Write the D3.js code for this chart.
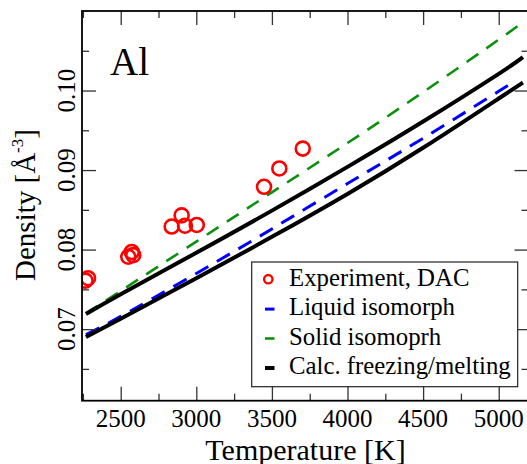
<!DOCTYPE html>
<html>
<head>
<meta charset="utf-8">
<script src="https://cdn.jsdelivr.net/npm/d3@7/dist/d3.min.js"></script>
<style>
  html, body { margin: 0; padding: 0; background: #fff; }
  svg { display: block; }
  text { font-family: "Liberation Serif", "Times New Roman", serif; fill: #000; }
</style>
</head>
<body>
<svg id="chart" width="527" height="464"></svg>
<script>
// ---- data ----
const expT   = [2267, 2284, 2550, 2573, 2583, 2837, 2903, 2925, 3003, 3448, 3549, 3704];
const expRho = [0.0761, 0.0764, 0.0791, 0.0797, 0.0793, 0.0829, 0.0843, 0.0830, 0.0831, 0.0879, 0.0902, 0.0927];

const calcT      = [2270, 2500, 3000, 3500, 4000, 4500, 5000, 5160];
const freezeRho  = [0.0719, 0.0744, 0.0796, 0.0849, 0.0904, 0.0961, 0.1021, 0.1042];
const meltRho    = [0.0690, 0.0713, 0.0764, 0.0816, 0.0870, 0.0928, 0.0990, 0.1010];

const liquidT    = [2270, 2500, 3000, 3500, 4000, 4500, 5000, 5108];
const liquidRho  = [0.0693, 0.0716, 0.0770, 0.0826, 0.0883, 0.0940, 0.0999, 0.1012];

const solidT     = [2270, 2500, 3000, 3500, 4000, 4500, 5000, 5160];
const solidRho   = [0.0720, 0.0748, 0.0810, 0.0872, 0.0934, 0.0998, 0.1064, 0.1086];

const xMajor = [2500, 3000, 3500, 4000, 4500, 5000];
const xMinor = [2250, 2750, 3250, 3750, 4250, 4750];
const yMajor = [0.07, 0.08, 0.09, 0.10];
const yMinor = [0.065, 0.075, 0.085, 0.095, 0.105];
const yLabels = ["0.07", "0.08", "0.09", "0.10"];

const legendLabels = ["Experiment, DAC", "Liquid isomorph", "Solid isomoprh", "Calc. freezing/melting"];

// ---- layout ----
const L = 82, R = 528.5, T = 11, B = 400.7;
const svg = d3.select("#chart");
const x = d3.scaleLinear().domain([2244, 5197]).range([L, R]);
const y = d3.scaleLinear().domain([0.061, 0.11]).range([B, T]);

const red = "#ff0000", blue = "#0000ff", green = "#0c900c";

const clipId = "plotclip";
svg.append("defs").append("clipPath").attr("id", clipId)
  .append("rect").attr("x", L).attr("y", T).attr("width", R - L).attr("height", B - T);

const plot = svg.append("g").attr("clip-path", `url(#${clipId})`);
const line = d3.line().curve(d3.curveNatural);

function drawLine(ts, rs, color, width, dash) {
  plot.append("path")
    .attr("d", line(ts.map((t, i) => [x(t), y(rs[i])])))
    .attr("fill", "none").attr("stroke", color).attr("stroke-width", width)
    .attr("stroke-dasharray", dash || null);
}

drawLine(liquidT, liquidRho, blue, 3, "15,10");
drawLine(solidT, solidRho, green, 2.6, "14,10");
drawLine(calcT, freezeRho, "#000", 4);
drawLine(calcT, meltRho, "#000", 4);

plot.selectAll("circle.exp").data(expT).enter().append("circle")
  .attr("class", "exp")
  .attr("cx", (d) => x(d)).attr("cy", (d, i) => y(expRho[i]))
  .attr("r", 7).attr("fill", "none").attr("stroke", red).attr("stroke-width", 2.6);

// ---- axes (frame with inward ticks on all sides) ----
const axG = svg.append("g");
const tickColor = "#333", tickW = 1.3, majL = 14, minL = 7;

function addAxis(a, tr) {
  const g = axG.append("g").attr("transform", tr).call(a);
  g.select(".domain").remove();
  g.selectAll(".tick line").attr("stroke", tickColor).attr("stroke-width", tickW);
  g.selectAll(".tick text").remove();
}
addAxis(d3.axisBottom(x).tickValues(xMajor).tickSize(-majL).tickFormat(""), `translate(0,${B})`);
addAxis(d3.axisBottom(x).tickValues(xMinor).tickSize(-minL).tickFormat(""), `translate(0,${B})`);
addAxis(d3.axisTop(x).tickValues(xMajor).tickSize(-majL).tickFormat(""), `translate(0,${T})`);
addAxis(d3.axisTop(x).tickValues(xMinor).tickSize(-minL).tickFormat(""), `translate(0,${T})`);
addAxis(d3.axisLeft(y).tickValues(yMajor).tickSize(-majL).tickFormat(""), `translate(${L},0)`);
addAxis(d3.axisLeft(y).tickValues(yMinor).tickSize(-minL).tickFormat(""), `translate(${L},0)`);
addAxis(d3.axisRight(y).tickValues(yMajor).tickSize(-majL).tickFormat(""), `translate(${R},0)`);
addAxis(d3.axisRight(y).tickValues(yMinor).tickSize(-minL).tickFormat(""), `translate(${R},0)`);

svg.append("rect").attr("x", L).attr("y", T).attr("width", R - L).attr("height", B - T)
  .attr("fill", "none").attr("stroke", "#000").attr("stroke-width", 1.8);

// tick labels
svg.append("g").selectAll("text").data(xMajor).enter().append("text")
  .attr("x", (d) => x(d)).attr("y", 426.5)
  .attr("text-anchor", "middle").attr("font-size", 25)
  .text((d) => d);

svg.append("g").selectAll("text").data(yMajor).enter().append("text")
  .attr("transform", (d) => `translate(74.5,${y(d)}) rotate(-90)`)
  .attr("text-anchor", "middle").attr("font-size", 25)
  .text((d, i) => yLabels[i]);

// axis titles
svg.append("text").attr("x", 305.5).attr("y", 459.5)
  .attr("text-anchor", "middle").attr("font-size", 30)
  .text("Temperature [K]");

const yt = svg.append("text")
  .attr("transform", "translate(35,205) rotate(-90)")
  .attr("text-anchor", "middle").attr("font-size", 29);
yt.append("tspan").text("Density [Å");
yt.append("tspan").attr("font-size", 17).attr("dy", -12).text("-3");
yt.append("tspan").attr("dy", 12).text("]");

// panel label
svg.append("text").attr("x", 110).attr("y", 75).attr("font-size", 39).text("Al");

// ---- legend ----
const lg = svg.append("g");
lg.append("rect").attr("x", 251.7).attr("y", 262).attr("width", 266).attr("height", 124.7)
  .attr("fill", "#fff").attr("stroke", "#222").attr("stroke-width", 1.2);
const rowY = [285.7, 315.1, 344.5, 374];
legendLabels.forEach((lab, i) => {
  lg.append("text").attr("x", 289).attr("y", rowY[i]).attr("font-size", 24.8).text(lab);
});
lg.append("circle").attr("cx", 268.3).attr("cy", rowY[0] - 6.5).attr("r", 4.2)
  .attr("fill", "none").attr("stroke", red).attr("stroke-width", 2.4);
const segs = [[blue, 3], [green, 2.6], ["#000", 4]];
segs.forEach((s, k) => {
  const yy = rowY[k + 1] - 6;
  lg.append("line").attr("x1", 265).attr("x2", 274.5).attr("y1", yy).attr("y2", yy)
    .attr("stroke", s[0]).attr("stroke-width", s[1]);
});
</script>
</body>
</html>
